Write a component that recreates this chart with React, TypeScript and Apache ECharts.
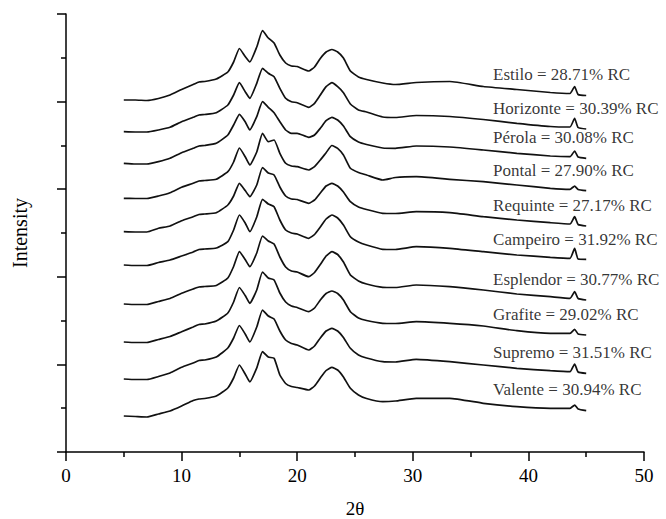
import React, { useEffect, useRef } from "react";
import * as echarts from "echarts";

// 2θ sampling positions (degrees)
const theta = [5, 6, 7, 8, 9, 10, 11, 11.5, 12, 13, 14, 14.5, 15, 15.5, 15.9, 16.5, 17, 17.5, 18, 18.5, 19, 19.5, 20, 21, 21.5, 22, 22.5, 23, 23.5, 24, 24.6, 25.3, 26, 27.4, 28.5, 30.3, 33.2, 36.1, 39, 41.9, 43.6, 44, 44.3, 45];

// Stacked (offset) intensities, arbitrary units
const estilo = [352, 352, 351.5, 353.5, 357, 362.5, 367.5, 370, 370.5, 373, 380, 390, 403.5, 395.5, 390, 405, 421.5, 414, 409, 397, 389, 386, 385.5, 381, 385, 393.5, 400, 402.5, 400, 394, 381, 375, 372.5, 369, 367.5, 369.5, 370.5, 365.5, 362.5, 359.5, 358.5, 365.5, 357.5, 356.5];
const horizonte = [320.3, 320, 320, 322, 324.7, 330.3, 334.7, 337, 337.5, 339.3, 347, 357, 369.3, 360.3, 353.7, 368.7, 383.7, 378.7, 375.3, 363.7, 353.7, 350.3, 349.3, 344.7, 348.7, 357, 365.3, 369.3, 365.3, 359.3, 348, 342, 340, 335, 334.5, 336.5, 335.5, 332.5, 328.7, 325.5, 325, 333.7, 324.5, 323];
const perola = [288.7, 288, 288, 290.3, 293.7, 299.3, 303.7, 306, 306.5, 308.7, 317, 327, 337.7, 330.3, 322, 335.3, 350.3, 344.7, 339.3, 330.3, 322, 318.7, 318.7, 314.7, 317, 323.7, 331.3, 334.7, 332, 326, 315.3, 310, 307.5, 304, 303.7, 306, 305, 302, 298.7, 296, 295.3, 301, 295, 293.7];
const pontal = [253.7, 253.5, 253.5, 256, 259.3, 264.7, 268.7, 271, 271.5, 272.7, 280.3, 290, 304, 295.3, 287, 300, 318.7, 310.3, 312, 298.7, 288.7, 286, 285.3, 282, 285.3, 292, 299.3, 306.5, 303.7, 297, 283.7, 279.5, 277, 272, 274.5, 275.3, 272.7, 270.3, 267, 263.7, 262.7, 266, 262.5, 261.3];
const requinte = [220.3, 220, 220, 223.7, 226, 231.3, 235.3, 237.5, 238, 239.3, 247, 256, 268.7, 261.5, 255.3, 267, 284.5, 279, 277, 265, 256, 253, 252.5, 248.7, 252, 259, 266, 268.7, 266, 260, 250.3, 245, 242.5, 238.7, 238.5, 240.3, 239.3, 235.3, 232, 229.3, 228, 235.3, 227.5, 226];
const campeiro = [187, 186.5, 186.5, 189.5, 192, 196, 200, 202.5, 203, 204, 210.3, 222, 237, 229, 220.3, 235, 252.7, 248, 245.3, 232, 222, 219, 218, 213.7, 217.5, 225, 233, 237, 234, 227, 215.3, 210, 207, 202.7, 202.5, 205.3, 203.7, 200.3, 197, 194.7, 193.7, 203.7, 193, 192.7];
const esplendor = [148, 147.5, 147.5, 150.5, 153.5, 158.7, 163, 165, 165.5, 166.5, 174, 185.5, 200.3, 192.5, 185.3, 199, 216, 211, 208, 195, 185, 181, 180, 175.3, 179.5, 187.5, 196, 200.3, 197.5, 190, 177, 171, 168, 164.7, 164.5, 167, 165.3, 162, 158, 155.3, 153.7, 160.3, 153.5, 152];
const grafite = [110, 109.5, 109.5, 112.5, 115.5, 120.3, 125, 127.5, 128, 131, 139, 150, 164.5, 156.5, 148.7, 162, 180, 174, 172, 159, 150, 146, 144.5, 140.3, 144, 152, 158.5, 161, 158.5, 152, 140.3, 134, 131.5, 128.7, 128.5, 130.3, 128.7, 126, 121.3, 118.7, 118.7, 122.7, 118, 117];
const supremo = [73, 72.5, 72.5, 75.5, 79, 84.7, 89, 91.5, 92, 95, 104, 114, 126.5, 118, 110, 125, 142, 136, 133, 121, 112, 108.5, 107, 102, 106, 114, 121, 123.7, 121, 114.5, 103.7, 97, 94, 90.3, 90, 92.7, 90.3, 87, 83.7, 81.3, 80.3, 88, 80, 78.7];
const valente = [36, 35.5, 35, 38, 41, 46, 51.5, 53, 53.5, 56, 64, 74, 87, 78, 70, 84, 100.3, 95, 93.7, 77, 68.5, 65.5, 64.5, 62, 66, 74, 81.5, 84.7, 82, 75, 63.7, 57, 53.5, 50.3, 51, 53.7, 53.7, 48.7, 45.3, 43.7, 43.7, 47, 43, 41.3];

const sampleNames = ["Estilo", "Horizonte", "Pérola", "Pontal", "Requinte", "Campeiro", "Esplendor", "Grafite", "Supremo", "Valente"];
const rcValues = [28.71, 30.39, 30.08, 27.9, 27.17, 31.92, 30.77, 29.02, 31.51, 30.94];
const curves = [estilo, horizonte, perola, pontal, requinte, campeiro, esplendor, grafite, supremo, valente];

const xTicks = [0, 10, 20, 30, 40, 50];

const FONT = "'Liberation Serif', 'Times New Roman', serif";

export default function App() {
  const ref = useRef<HTMLDivElement>(null);

  useEffect(() => {
    if (!ref.current) return;
    const chart = echarts.init(ref.current, undefined, { renderer: "svg" });

    const lineSeries = curves.map((vals, k) => ({
      type: "line",
      name: sampleNames[k],
      data: theta.map((t, i) => [t, vals[i]]),
      showSymbol: false,
      smooth: 0.15,
      lineStyle: { color: "#111", width: 1.7 },
      silent: true,
      z: 2,
    }));

    const labelSeries = {
      type: "scatter",
      symbolSize: 1,
      itemStyle: { color: "rgba(0,0,0,0)" },
      silent: true,
      z: 3,
      data: curves.map((vals, k) => ({
        name: `${sampleNames[k]} = ${rcValues[k].toFixed(2)}% RC`,
        value: [36.9, vals[vals.length - 4] + 19],
      })),
      label: {
        show: true,
        position: "right",
        distance: 0,
        formatter: "{b}",
        fontFamily: FONT,
        fontSize: 17,
        color: "#000",
      },
    };

    chart.setOption({
      animation: false,
      backgroundColor: "#fff",
      grid: { left: 66, right: 22, top: 14, bottom: 67, containLabel: false, outerBoundsMode: "none" },
      xAxis: {
        type: "value",
        min: xTicks[0],
        max: xTicks[xTicks.length - 1],
        interval: 10,
        name: "2θ",
        nameLocation: "middle",
        nameGap: 47,
        nameTextStyle: { fontFamily: FONT, fontSize: 19, color: "#000" },
        axisLine: { show: true, onZero: false, lineStyle: { color: "#000", width: 1.5 } },
        axisTick: { show: true, inside: false, length: 9, lineStyle: { color: "#000", width: 1.5 } },
        minorTick: { show: true, splitNumber: 2, length: 5, lineStyle: { color: "#000", width: 1.5 } },
        axisLabel: { fontFamily: FONT, fontSize: 19, color: "#000", margin: 14 },
        splitLine: { show: false },
      },
      yAxis: {
        type: "value",
        min: 0,
        max: 438,
        interval: 87.6,
        name: "Intensity",
        nameLocation: "middle",
        nameGap: 36,
        nameTextStyle: { fontFamily: FONT, fontSize: 20, color: "#000" },
        axisLine: { show: true, onZero: false, lineStyle: { color: "#000", width: 1.5 } },
        axisTick: { show: true, inside: false, length: 9, lineStyle: { color: "#000", width: 1.5 } },
        minorTick: { show: true, splitNumber: 2, length: 5, lineStyle: { color: "#000", width: 1.5 } },
        axisLabel: { show: false },
        splitLine: { show: false },
      },
      series: [...lineSeries, labelSeries],
    });

    return () => chart.dispose();
  }, []);

  return (
    <div
      ref={ref}
      style={{ position: "fixed", left: 0, top: 0, width: 666, height: 519, background: "#fff" }}
    />
  );
}
